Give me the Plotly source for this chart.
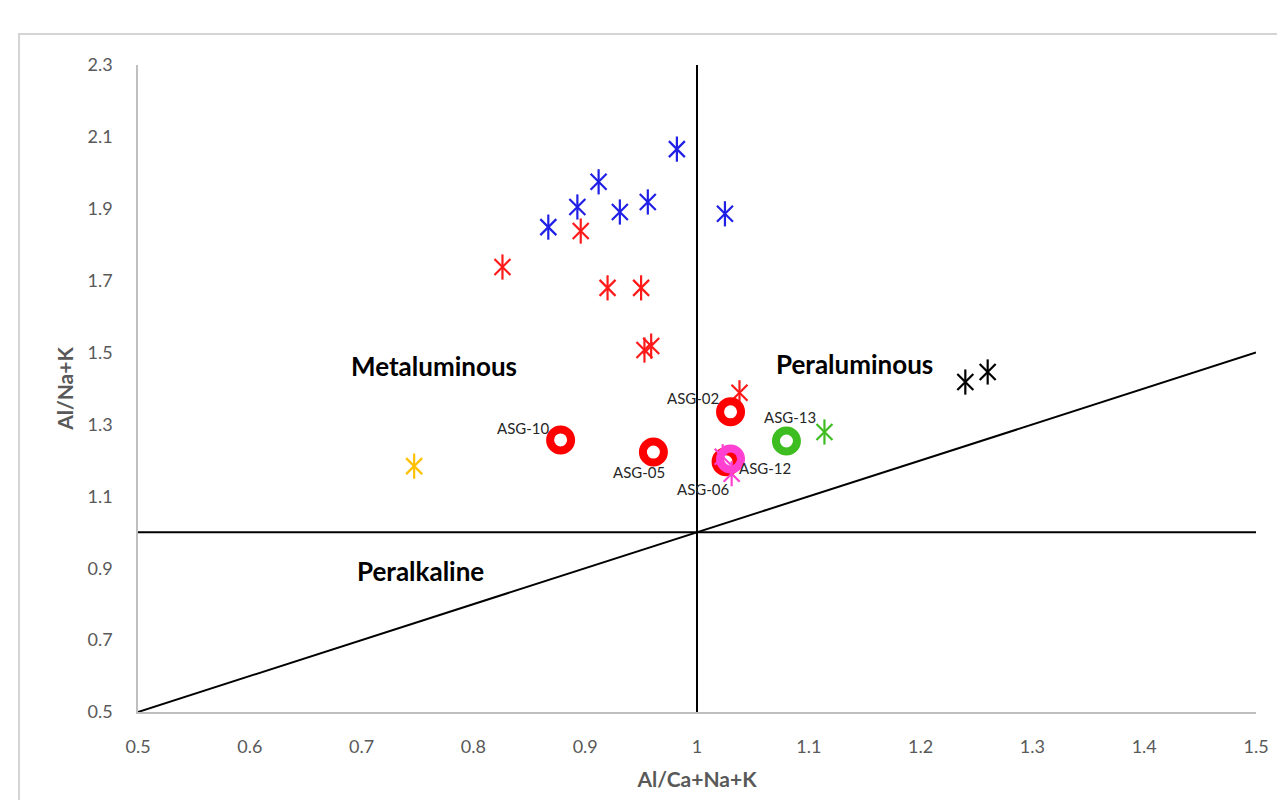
import plotly.graph_objects as go

# ---- data ----
blue_x = [0.867, 0.893, 0.912, 0.931, 0.956, 0.982, 1.025]
blue_y = [1.849, 1.905, 1.975, 1.891, 1.919, 2.066, 1.886]
red_x = [0.826, 0.896, 0.920, 0.950, 0.953, 0.959, 1.038]
red_y = [1.738, 1.838, 1.680, 1.680, 1.507, 1.518, 1.388]
pink_x = [1.023, 1.031]
pink_y = [1.210, 1.163]
yellow_x = [0.747]
yellow_y = [1.184]
green_x = [1.114]
green_y = [1.279]
black_x = [1.240, 1.260]
black_y = [1.418, 1.446]

red_circ_names = ["ASG-10", "ASG-05", "ASG-02", "ASG-06"]
red_circ_x = [0.878, 0.961, 1.030, 1.026]
red_circ_y = [1.257, 1.223, 1.335, 1.196]
pink_circ_names = ["ASG-12"]
pink_circ_x = [1.030]
pink_circ_y = [1.204]
green_circ_names = ["ASG-13"]
green_circ_x = [1.080]
green_circ_y = [1.254]

label_shift = {"ASG-10": (-37, 12), "ASG-05": (-14, -20), "ASG-02": (-38, 14),
               "ASG-12": (34, -9), "ASG-06": (-23, -27), "ASG-13": (4, 24)}

x_ticks = [0.5, 0.6, 0.7, 0.8, 0.9, 1.0, 1.1, 1.2, 1.3, 1.4, 1.5]
x_tick_text = ["0.5", "0.6", "0.7", "0.8", "0.9", "1", "1.1", "1.2", "1.3", "1.4", "1.5"]
y_ticks = [0.5, 0.7, 0.9, 1.1, 1.3, 1.5, 1.7, 1.9, 2.1, 2.3]
y_tick_text = ["0.5", "0.7", "0.9", "1.1", "1.3", "1.5", "1.7", "1.9", "2.1", "2.3"]

# boundary lines
vline_x = [1.0, 1.0]
vline_y = [0.5, 2.3]
hline_x = [0.5, 1.5]
hline_y = [1.0, 1.0]
diag_x = [0.5, 1.5]
diag_y = [0.5, 1.5]

regions = [("Metaluminous", 0.765, 1.463), ("Peraluminous", 1.141, 1.468), ("Peralkaline", 0.753, 0.892)]

FONT = "Lato, Open Sans, sans-serif"

fig = go.Figure()

for xs, ys in [(vline_x, vline_y), (hline_x, hline_y), (diag_x, diag_y)]:
    fig.add_trace(go.Scatter(x=xs, y=ys, mode="lines", line=dict(color="black", width=2),
                             hoverinfo="skip", showlegend=False))


def add_star(xs, ys, color):
    fig.add_trace(go.Scatter(x=xs, y=ys, mode="markers", showlegend=False,
                             marker=dict(symbol="x-thin-open", size=16, color=color,
                                         line=dict(color=color, width=2.2))))
    fig.add_trace(go.Scatter(x=xs, y=ys, mode="markers", showlegend=False,
                             marker=dict(symbol="line-ns-open", size=18, color=color,
                                         line=dict(color=color, width=2.2))))


add_star(blue_x, blue_y, "#1f1fe6")
add_star(red_x, red_y, "#ff1a1a")
add_star(yellow_x, yellow_y, "#ffc000")
add_star(green_x, green_y, "#3dbd1f")
add_star(black_x, black_y, "#000000")


def add_circ(xs, ys, names, color):
    fig.add_trace(go.Scatter(x=xs, y=ys, mode="markers", showlegend=False, text=names,
                             marker=dict(symbol="circle-open", size=21, color=color,
                                         line=dict(color=color, width=8))))
    for n, x, y in zip(names, xs, ys):
        dx, dy = label_shift[n]
        fig.add_annotation(x=x, y=y, text=n, showarrow=False, xshift=dx, yshift=dy,
                           font=dict(family=FONT, size=15, color="#262626"))


add_circ(red_circ_x, red_circ_y, red_circ_names, "#ff0000")
add_star(pink_x[:1], pink_y[:1], "#ff40d0")
add_circ(pink_circ_x, pink_circ_y, pink_circ_names, "#ff40d0")
add_star(pink_x[1:], pink_y[1:], "#ff40d0")
add_circ(green_circ_x, green_circ_y, green_circ_names, "#3dbd1f")

for t, x, y in regions:
    fig.add_annotation(x=x, y=y, text="<b>" + t + "</b>", showarrow=False,
                       font=dict(family=FONT, size=26, color="#000000"))

# chart border
fig.add_shape(type="rect", xref="paper", yref="paper", x0=-0.1064, x1=1.05, y0=-0.2, y1=1.048,
              line=dict(color="#d4d4d4", width=2), fillcolor="rgba(0,0,0,0)", layer="below")

axis_common = dict(showgrid=False, zeroline=False, showline=True, linecolor="#bfbfbf", linewidth=1.5,
                   ticks="outside", ticklen=0, tickcolor="rgba(0,0,0,0)",
                   tickfont=dict(family=FONT, size=18, color="#595959"))

fig.update_layout(
    width=1277, height=792,
    margin=dict(l=130, r=29, t=57, b=88),
    paper_bgcolor="white", plot_bgcolor="white",
    xaxis=dict(range=[0.5, 1.5], tickvals=x_ticks, ticktext=x_tick_text, ticklabelstandoff=18,
               title=dict(text="<b>Al/Ca+Na+K</b>", standoff=16,
                          font=dict(family=FONT, size=21, color="#595959")),
               **axis_common),
    yaxis=dict(range=[0.5, 2.3], tickvals=y_ticks, ticktext=y_tick_text, ticklabelstandoff=20,
               title=dict(text="<b>Al/Na+K</b>", standoff=8,
                          font=dict(family=FONT, size=21, color="#595959")),
               **axis_common),
)

fig.write_html("out.html")
